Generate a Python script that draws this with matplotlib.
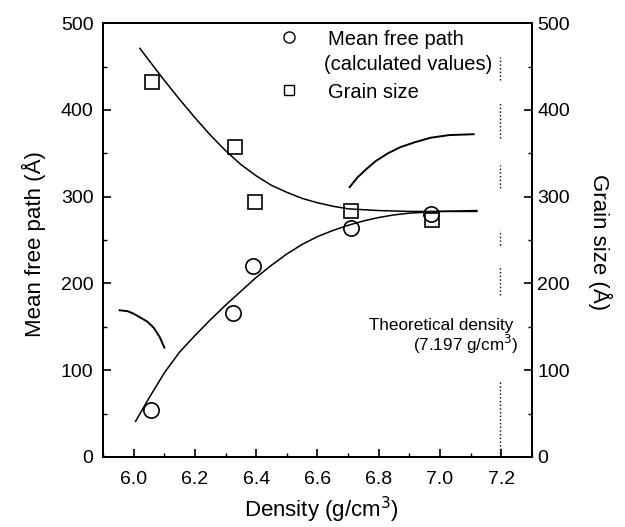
import matplotlib
matplotlib.use('Agg')
import matplotlib.pyplot as plt
from matplotlib.ticker import MultipleLocator

plt.rcParams['font.family'] = ['Liberation Sans', 'DejaVu Sans']

# measured points
dens_mfp = [6.055, 6.325, 6.39, 6.71, 6.97]
mfp = [54, 166, 220, 264, 280]
dens_grain = [6.06, 6.33, 6.395, 6.71, 6.975]
grain = [432, 357, 294, 283, 273]

# fitted curves
fit_mfp_x = [6.006, 6.05, 6.10, 6.15, 6.20, 6.25, 6.30, 6.35, 6.40, 6.45, 6.50,
             6.55, 6.60, 6.65, 6.70, 6.75, 6.80, 6.85, 6.90, 7.00, 7.12]
fit_mfp_y = [41, 68, 97, 121, 140, 158, 175, 191, 207, 221, 234,
             245, 254, 261, 267, 272, 276, 279, 281, 283, 284]
fit_grain_x = [6.02, 6.05, 6.10, 6.15, 6.20, 6.25, 6.30, 6.35, 6.40, 6.45, 6.50,
               6.55, 6.60, 6.65, 6.70, 6.75, 6.80, 6.90, 7.00, 7.12]
fit_grain_y = [471, 457, 434, 412, 391, 371, 353, 337, 324, 313, 305,
               298, 293, 289, 286, 285, 284, 283, 283, 283]

# pointer arcs
arc_left_x = [5.954, 5.98, 6.0, 6.02, 6.044, 6.065, 6.085, 6.1]
arc_left_y = [169, 168, 165, 161, 156, 149, 138, 126]
arc_right_x = [6.705, 6.73, 6.76, 6.79, 6.83, 6.87, 6.92, 6.97, 7.03, 7.11]
arc_right_y = [311, 322, 332, 341, 350, 357, 363, 368, 371, 372]

# theoretical density marker
theo = 7.197
theo_segments = [(0, 88), (187, 219), (244, 262), (310, 337), (368, 408), (434, 461)]

fig = plt.figure(figsize=(6.25, 5.27), dpi=100)
ax = fig.add_axes([0.165, 0.133, 0.686, 0.823])

ax.plot(fit_mfp_x, fit_mfp_y, 'k-', lw=1.1)
ax.plot(fit_grain_x, fit_grain_y, 'k-', lw=1.1)
ax.plot(arc_left_x, arc_left_y, 'k-', lw=1.4)
ax.plot(arc_right_x, arc_right_y, 'k-', lw=1.4)
ax.plot(dens_mfp, mfp, 'o', ms=11, mfc='none', mec='k', mew=1.2)
ax.plot(dens_grain, grain, 's', ms=10.5, mfc='none', mec='k', mew=1.2)
for y0, y1 in theo_segments:
    ax.plot([theo, theo], [y0, y1], 'k:', lw=1.0)

# legend drawn by hand
ax.plot([6.508], [484], 'o', ms=8, mfc='none', mec='k', mew=1.0)
ax.plot([6.508], [423], 's', ms=7.5, mfc='none', mec='k', mew=1.0)
ax.text(6.634, 481, 'Mean free path', fontsize=14.5, va='center')
ax.text(6.621, 452, '(calculated values)', fontsize=14.5, va='center')
ax.text(6.634, 420, 'Grain size', fontsize=14.5, va='center')

ax.text(7.238, 152, 'Theoretical density', fontsize=12.3, ha='right', va='center')
ax.text(7.255, 130, '(7.197 g/cm$^3$)', fontsize=12.3, ha='right', va='center')

ax.set_xlim(5.9, 7.3)
ax.set_ylim(0, 500)
ax.xaxis.set_major_locator(MultipleLocator(0.2))
ax.xaxis.set_minor_locator(MultipleLocator(0.1))
ax.yaxis.set_major_locator(MultipleLocator(100))
ax.yaxis.set_minor_locator(MultipleLocator(50))
ax.set_xticks([6.0, 6.2, 6.4, 6.6, 6.8, 7.0, 7.2])
ax.set_xticklabels(['6.0', '6.2', '6.4', '6.6', '6.8', '7.0', '7.2'])
ax.tick_params(which='both', direction='in', labelsize=14, top=False, right=False)
ax.tick_params(which='major', length=6, width=1.2)
ax.tick_params(which='minor', length=3, width=1.0)
ax.tick_params(axis='x', pad=10)
ax.tick_params(axis='y', pad=7)
for s in ax.spines.values():
    s.set_linewidth(1.4)

ax2 = ax.twinx()
ax2.set_ylim(0, 500)
ax2.yaxis.set_major_locator(MultipleLocator(100))
ax2.yaxis.set_minor_locator(MultipleLocator(50))
ax2.tick_params(which='both', direction='in', labelsize=14, pad=4)
ax2.tick_params(which='major', length=6, width=1.2)
ax2.tick_params(which='minor', length=3, width=1.0)
for s in ax2.spines.values():
    s.set_linewidth(1.4)

ax.set_xlabel('Density (g/cm$^3$)', fontsize=16, va='center')
ax.set_ylabel('Mean free path (Å)', fontsize=16, va='center')
ax2.set_ylabel('Grain size (Å)', fontsize=16, rotation=270, va='center')
ax.xaxis.set_label_coords(0.51, -0.122)
ax.yaxis.set_label_coords(-0.161, 0.49)
ax2.yaxis.set_label_coords(1.158, 0.495)

fig.savefig('out.png', dpi=100)
